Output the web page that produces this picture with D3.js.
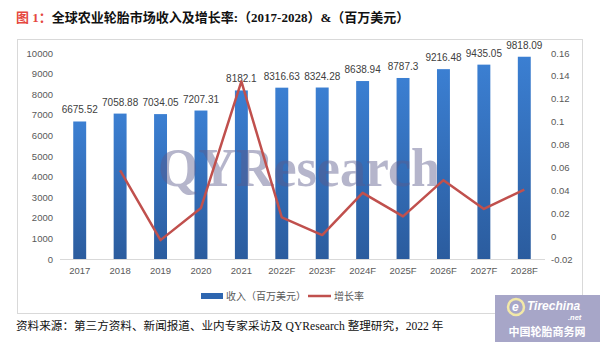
<!DOCTYPE html>
<html><head><meta charset="utf-8">
<script src="https://cdn.jsdelivr.net/npm/d3@7"></script>
<style>body{margin:0;background:#fff}svg{display:block}</style>
</head><body>
<svg id="c" width="600" height="342"></svg>
<script>
const categories = ["2017","2018","2019","2020","2021","2022F","2023F","2024F","2025F","2026F","2027F","2028F"];
const revenue = [6675.52,7058.88,7034.05,7207.31,8182.1,8316.63,8324.28,8638.94,8787.3,9216.48,9435.05,9818.09];
const growth = [null,0.0574,-0.0035,0.0246,0.1352,0.0164,0.0009,0.0378,0.0172,0.0489,0.0237,0.0406];
const leftTicks = [0,1000,2000,3000,4000,5000,6000,7000,8000,9000,10000];
const rightTicks = [-0.02,0,0.02,0.04,0.06,0.08,0.1,0.12,0.14,0.16];

const svg = d3.select("#c");
const defs = svg.append("defs");
const g = defs.append("linearGradient").attr("id","bg").attr("x1",0).attr("x2",0).attr("y1",0).attr("y2",1);
g.append("stop").attr("offset","0%").attr("stop-color","#3b7fd2");
g.append("stop").attr("offset","100%").attr("stop-color","#2b5c9e");

// title
const t = svg.append("text").attr("x",16).attr("y",22).attr("font-size",13).attr("font-weight","bold")
  .attr("font-family","'Liberation Serif','Noto Sans CJK SC',serif");
t.append("tspan").attr("fill","#e5483f").text("图 1：");
t.append("tspan").attr("fill","#111").text("全球农业轮胎市场收入及增长率:（2017-2028）&（百万美元）");

// frame
svg.append("rect").attr("x",17.5).attr("y",39.5).attr("width",565).attr("height",274)
  .attr("fill","none").attr("stroke","#d9d9d9").attr("stroke-width",1);

const x = d3.scaleBand().domain(categories).range([59.5,544.5]).paddingInner(0.68).paddingOuter(0.34);
const y = d3.scaleLinear().domain([0,10000]).range([259,53]);
const y2 = d3.scaleLinear().domain([-0.02,0.16]).range([259,53]);

const font = "'Liberation Sans','Noto Sans CJK SC',sans-serif";
const la = svg.append("g").attr("transform","translate(59,0)")
  .call(d3.axisLeft(y).tickValues(leftTicks).tickSize(0).tickPadding(6).tickFormat(d3.format("d")));
la.select(".domain").remove();
la.selectAll("text").attr("font-size",9.5).attr("fill","#595959").attr("font-family",font);

const ra = svg.append("g").attr("transform","translate(545,0)")
  .call(d3.axisRight(y2).tickValues(rightTicks).tickSize(0).tickPadding(6).tickFormat(d=>String(+d.toFixed(2))));
ra.select(".domain").remove();
ra.selectAll("text").attr("font-size",9.5).attr("fill","#595959").attr("font-family",font);

const xa = svg.append("g").attr("transform","translate(0,259)")
  .call(d3.axisBottom(x).tickSize(0).tickPadding(8));
xa.select(".domain").attr("stroke","#d9d9d9");
xa.selectAll("text").attr("font-size",9.5).attr("fill","#595959").attr("font-family",font);

// bars
svg.append("g").selectAll("rect").data(revenue).join("rect")
  .attr("x",(d,i)=>x(categories[i])).attr("width",x.bandwidth())
  .attr("y",d=>y(d)).attr("height",d=>y(0)-y(d)).attr("fill","url(#bg)");
svg.append("g").selectAll("text").data(revenue).join("text")
  .attr("x",(d,i)=>x(categories[i])+x.bandwidth()/2).attr("y",d=>y(d)-8)
  .attr("text-anchor","middle").attr("font-size",10).attr("fill","#404040").attr("font-family",font)
  .text(d=>d);

// watermark
svg.append("text").attr("x",158).attr("y",186).attr("font-size",54).attr("font-weight","bold")
  .attr("font-family","'Liberation Serif',serif").attr("fill","#5a5a8c").attr("fill-opacity",0.45)
  .attr("textLength",282).attr("lengthAdjust","spacingAndGlyphs").text("QYResearch");

// growth line
const pts = growth.map((v,i)=>[v,i]).filter(p=>p[0]!==null);
svg.append("path").datum(pts)
  .attr("d",d3.line().x(p=>x(categories[p[1]])+x.bandwidth()/2).y(p=>y2(p[0])))
  .attr("fill","none").attr("stroke","#c0504d").attr("stroke-width",2.5).attr("stroke-linejoin","round");

// legend
svg.append("rect").attr("x",201).attr("y",293).attr("width",22).attr("height",6).attr("fill","#2e66b0");
svg.append("text").attr("x",226).attr("y",300).attr("font-size",10).attr("fill","#595959").attr("font-family",font).text("收入（百万美元）");
svg.append("line").attr("x1",308).attr("x2",331).attr("y1",296).attr("y2",296).attr("stroke","#c0504d").attr("stroke-width",2.5);
svg.append("text").attr("x",334).attr("y",300).attr("font-size",10).attr("fill","#595959").attr("font-family",font).text("增长率");

// source
svg.append("text").attr("x",16).attr("y",330).attr("font-size",11.6).attr("fill","#111")
  .attr("font-family","'Liberation Serif','Noto Sans CJK SC',serif")
  .text("资料来源：第三方资料、新闻报道、业内专家采访及 QYResearch 整理研究，2022 年");

// logo
const lg = svg.append("g");
lg.append("rect").attr("x",495).attr("y",295).attr("width",105).attr("height",47).attr("fill","#a7a6c8");
lg.append("ellipse").attr("cx",516).attr("cy",307).attr("rx",8).attr("ry",8).attr("fill","none").attr("stroke","#f3e9a8").attr("stroke-width",2.5);
lg.append("text").attr("x",512).attr("y",311).attr("font-size",12).attr("font-style","italic").attr("font-weight","bold").attr("fill","#fff").attr("font-family",font).text("e");
lg.append("text").attr("x",527).attr("y",310).attr("font-size",12).attr("font-style","italic").attr("font-weight","bold").attr("fill","#fff").attr("font-family",font).text("Tirechina");
lg.append("text").attr("x",568).attr("y",320).attr("font-size",7.5).attr("font-style","italic").attr("font-weight","bold").attr("fill","#fff").attr("font-family",font).text(".net");
lg.append("text").attr("x",547).attr("y",336).attr("text-anchor","middle").attr("font-size",11).attr("font-weight","bold").attr("fill","#fff").attr("font-family","'Noto Sans CJK SC',sans-serif").text("中国轮胎商务网");
</script>
</body></html>
